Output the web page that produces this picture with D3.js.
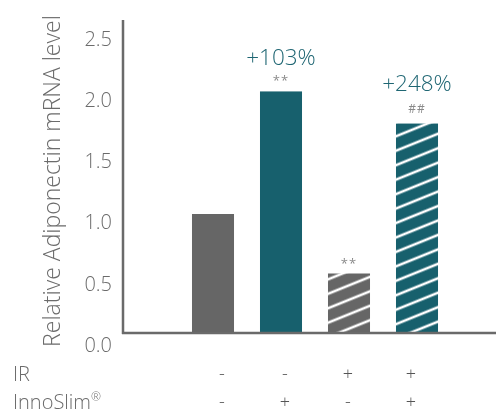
<!DOCTYPE html>
<html><head><meta charset="utf-8">
<script src="https://cdn.jsdelivr.net/npm/d3@7"></script>
<style>
html,body{margin:0;padding:0;background:#fff;}
svg{display:block;font-family:"Open Sans",sans-serif;will-change:transform;}
</style></head>
<body>
<svg id="chart" width="496" height="414"></svg>
<script>
// ---- data ----
const groups = ["ctrl", "inno", "ir", "irInno"];
const values = [1.0, 2.03, 0.5, 1.76];
const fills = ["grey", "teal", "grey", "teal"];
const striped = [false, false, true, true];
const percentLabels = ["", "+103%", "", "+248%"];
const sigLabels = ["", "**", "**", "##"];
const yTicks = [0, 0.5, 1.0, 1.5, 2.0, 2.5];
const rowNames = ["IR", "InnoSlim"];
const irSigns = ["-", "-", "+", "+"];
const innoSigns = ["-", "+", "-", "+"];
const yTitle = "Relative Adiponectin mRNA level";

const colors = {grey: "#666666", teal: "#17606d"};
const axisColor = "#6a6a6a";
const textColor = "#6b6b6b";

const svg = d3.select("#chart");
const defs = svg.append("defs");
["grey", "teal"].forEach(k => {
  const p = defs.append("pattern").attr("id", "hatch-" + k)
    .attr("patternUnits", "userSpaceOnUse")
    .attr("width", 13.4).attr("height", 13.4)
    .attr("patternTransform", "rotate(-22)");
  p.append("rect").attr("x", -1).attr("y", -1).attr("width", 15.4).attr("height", 15.4).attr("fill", colors[k]);
  p.append("rect").attr("x", -1).attr("y", 5.4).attr("width", 15.4).attr("height", 2.6).attr("fill", "#fff");
});

const x = d3.scaleBand().domain(groups).range([179, 451]).paddingInner(0.382).paddingOuter(0.191);
const yBar = d3.scaleLinear().domain([0, 2.5]).range([333, 333 - 2.5 * 119]);
const yLab = d3.scaleLinear().domain([0, 2.5]).range([344, 38]);
const xSign = d3.scalePoint().domain(groups).range([222, 411]);

// bars
svg.append("g").selectAll("rect").data(groups).join("rect")
  .attr("x", d => x(d))
  .attr("width", x.bandwidth())
  .attr("y", (d, i) => yBar(values[i]))
  .attr("height", (d, i) => yBar(0) - yBar(values[i]))
  .attr("fill", (d, i) => striped[i] ? "url(#hatch-" + fills[i] + ")" : colors[fills[i]]);

// axis labels
const ax = svg.append("g").attr("transform", "translate(112,0)")
  .call(d3.axisLeft(yLab).tickValues(yTicks).tickFormat(d3.format(".1f")).tickSize(0).tickPadding(0));
ax.select(".domain").remove();
ax.selectAll("text").attr("font-family", "'Open Sans',sans-serif").attr("font-size", 20)
  .attr("font-weight", 300).attr("fill", textColor).attr("dy", "0.36em");

// axis lines
svg.append("line").attr("x1", 123).attr("x2", 123).attr("y1", 20).attr("y2", 334)
  .attr("stroke", axisColor).attr("stroke-width", 2.5);
svg.append("line").attr("x1", 122).attr("x2", 496).attr("y1", 333).attr("y2", 333)
  .attr("stroke", axisColor).attr("stroke-width", 2.5);

// y title
svg.append("text").attr("transform", "translate(60,181) rotate(-90)")
  .attr("text-anchor", "middle").attr("font-size", 23).attr("font-weight", 300)
  .attr("fill", textColor).text(yTitle);

// significance marks
const sigY = (i) => yBar(values[i]) - (sigLabels[i] === "##" ? 11 : 6);
svg.append("g").selectAll("text").data(groups).join("text")
  .attr("x", d => x(d) + x.bandwidth() / 2)
  .attr("y", (d, i) => sigY(i))
  .attr("text-anchor", "middle")
  .attr("font-size", (d, i) => sigLabels[i] === "##" ? 12 : 13)
  .attr("letter-spacing", 1)
  .attr("fill", "#8a8a8a")
  .text((d, i) => sigLabels[i]);

// percent labels
svg.append("g").selectAll("text").data(groups).join("text")
  .attr("x", d => x(d) + x.bandwidth() / 2)
  .attr("y", (d, i) => sigY(i) - (sigLabels[i] === "##" ? 21.5 : 20))
  .attr("text-anchor", "middle")
  .attr("font-size", 22.5)
  .attr("font-weight", 300)
  .attr("fill", "#1f6673")
  .text((d, i) => percentLabels[i]);

// condition rows
const rowY = [381, 409];
svg.append("text").attr("x", 13).attr("y", rowY[0]).attr("font-size", 20).attr("font-weight", 300)
  .attr("fill", textColor).text(rowNames[0]);
const inno = svg.append("text").attr("x", 13).attr("y", rowY[1]).attr("font-size", 20).attr("font-weight", 300)
  .attr("fill", textColor).text(rowNames[1]);
inno.append("tspan").attr("font-size", 12).attr("dy", -8).text("®");

[irSigns, innoSigns].forEach((signs, r) => {
  svg.append("g").selectAll("text").data(groups).join("text")
    .attr("x", d => xSign(d))
    .attr("y", rowY[r] - 1)
    .attr("text-anchor", "middle")
    .attr("font-size", 18).attr("font-weight", 300)
    .attr("fill", "#555")
    .text((d, i) => signs[i]);
});
</script>
</body></html>
